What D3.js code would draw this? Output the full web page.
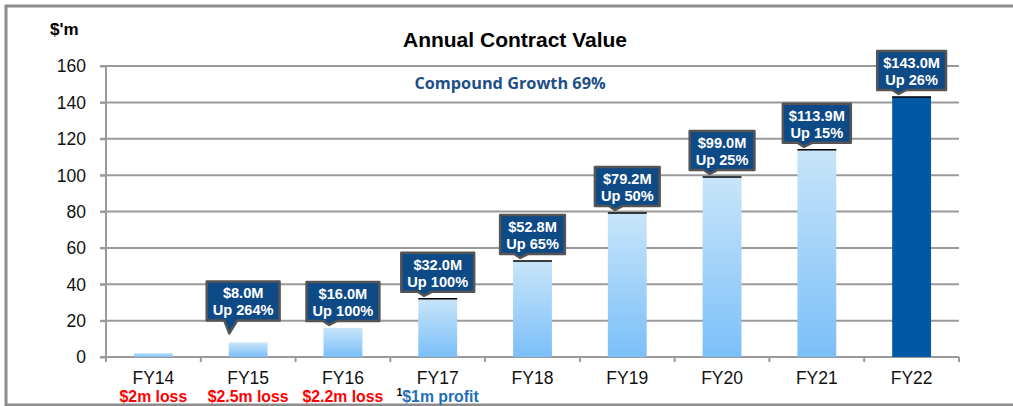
<!DOCTYPE html>
<html><head><meta charset="utf-8">
<script src="https://cdn.jsdelivr.net/npm/d3@7"></script>
<style>body{margin:0;background:#fff}svg{display:block}</style>
</head><body>
<svg id="c" width="1013" height="406"></svg>
<script>
const categories = ["FY14","FY15","FY16","FY17","FY18","FY19","FY20","FY21","FY22"];
const values = [2.2, 8.0, 16.0, 32.0, 52.8, 79.2, 99.0, 113.9, 143.0];
const calloutValue = [null,"$8.0M","$16.0M","$32.0M","$52.8M","$79.2M","$99.0M","$113.9M","$143.0M"];
const calloutGrowth = [null,"Up 264%","Up 100%","Up 100%","Up 65%","Up 50%","Up 25%","Up 15%","Up 26%"];
const profitNotes = ["$2m loss","$2.5m loss","$2.2m loss","$1m profit","","","","",""];
const profitKind = ["loss","loss","loss","profit","","","","",""];
const yTicks = [0,20,40,60,80,100,120,140,160];

const FONT = "Liberation Sans, Arial, sans-serif";
const svg = d3.select("#c");
const M = {left:106, right:959, top:66, bottom:357};
const x = d3.scaleBand().domain(categories).range([M.left, M.right]).paddingInner(0.59).paddingOuter(0.295);
const xb = d3.scaleBand().domain(categories).range([M.left, M.right]);
const y = d3.scaleLinear().domain([0,160]).range([M.bottom, M.top]);

// outer frame
svg.append("rect").attr("x",6).attr("y",6).attr("width",1030).attr("height",399)
  .attr("fill","none").attr("stroke","#8c8c8c").attr("stroke-width",3);

const defs = svg.append("defs");
const g1 = defs.append("linearGradient").attr("id","gb").attr("x1",0).attr("y1",0).attr("x2",0).attr("y2",1);
g1.append("stop").attr("offset","0%").attr("stop-color","#c8e5f9");
g1.append("stop").attr("offset","100%").attr("stop-color","#7bbff9");

// gridlines
const grid = svg.append("g");
yTicks.forEach(t=>{
  grid.append("line").attr("x1",M.left-6).attr("x2",M.right).attr("y1",y(t)).attr("y2",y(t))
    .attr("stroke","#9a9a9a").attr("stroke-width",2);
});
// y axis
const ya = svg.append("g").attr("transform",`translate(${M.left},0)`)
  .call(d3.axisLeft(y).tickValues(yTicks).tickSize(6).tickPadding(10));
ya.select(".domain").attr("stroke","#9a9a9a").attr("stroke-width",2).attr("d",`M0,${M.top}V${M.bottom+1}`);
ya.selectAll(".tick line").attr("stroke","#9a9a9a").attr("stroke-width",2);
ya.selectAll(".tick text").attr("font-family",FONT).attr("font-size",17.5).attr("fill","#111").attr("dy","0.34em").attr("x",-20);

// x axis
const xa = svg.append("g").attr("transform",`translate(0,${M.bottom})`)
  .call(d3.axisBottom(xb).tickSize(0).tickPadding(15));
xa.select(".domain").remove();
xa.selectAll(".tick text").attr("font-family",FONT).attr("font-size",17.5).attr("fill","#111");
// band boundary ticks
const bounds = categories.map(c=>xb(c)).concat([M.right]);
bounds.forEach(b=>{
  svg.append("line").attr("x1",b).attr("x2",b).attr("y1",M.bottom).attr("y2",M.bottom+5)
    .attr("stroke","#9a9a9a").attr("stroke-width",2);
});

// bars
const bars = svg.append("g");
categories.forEach((c,i)=>{
  const last = i===categories.length-1;
  bars.append("rect").attr("x",x(c)).attr("y",y(values[i])).attr("width",x.bandwidth())
    .attr("height",y(0)-y(values[i])).attr("fill", last ? "#0059a4" : "url(#gb)");
  if(i>=3){
    bars.append("line").attr("x1",x(c)).attr("x2",x(c)+x.bandwidth())
      .attr("y1",y(values[i])).attr("y2",y(values[i])).attr("stroke","#000").attr("stroke-width",1.5);
  }
});

// title
svg.append("text").attr("x",515).attr("y",47).attr("text-anchor","middle")
  .attr("font-family",FONT).attr("font-weight","bold").attr("font-size",21).attr("fill","#000")
  .text("Annual Contract Value");
svg.append("text").attr("x",50).attr("y",35)
  .attr("font-family",FONT).attr("font-weight","bold").attr("font-size",17).attr("fill","#000")
  .text("$'m");
svg.append("text").attr("x",510).attr("y",89).attr("text-anchor","middle")
  .attr("font-family","Open Sans, sans-serif").attr("font-weight","bold").attr("font-size",16.3).attr("fill","#1d4f86")
  .text("Compound Growth 69%");

// profit notes
const notes = svg.append("g");
categories.forEach((c,i)=>{
  if(!profitNotes[i]) return;
  const cx = xb(c)+xb.bandwidth()/2;
  const t = notes.append("text").attr("x",cx).attr("y",402).attr("text-anchor","middle")
    .attr("font-family",FONT).attr("font-weight","bold").attr("font-size",15.8);
  if(profitKind[i]==="profit"){
    t.append("tspan").attr("fill","#000").attr("font-size",10).attr("dy",-6).text("1");
    t.append("tspan").attr("fill","#1f6fb5").attr("dy",6).text(profitNotes[i]);
  } else {
    t.attr("fill","#f00").text(profitNotes[i]);
  }
});

// callouts
const co = svg.append("g");
categories.forEach((c,i)=>{
  if(!calloutValue[i]) return;
  const cx = xb(c)+xb.bandwidth()/2 - (i===1?5:0);
  const top = y(values[i]);
  const lift = i===1 ? 22 : 7;
  const h = 39;
  const bottom = top - lift;
  const y0 = bottom - h;
  const grp = co.append("g");
  const path = grp.append("path");
  const t = grp.append("text").attr("text-anchor","middle").attr("fill","#fff")
    .attr("font-family",FONT).attr("font-weight","bold").attr("font-size",14.6);
  t.append("tspan").attr("x",cx).attr("y",y0+17).text(calloutValue[i]);
  t.append("tspan").attr("x",cx).attr("y",y0+34).text(calloutGrowth[i]);
  const w = t.node().getBBox().width + 12;
  const x0 = cx - w/2;
  const tipX = x0 + w*0.31;
  const tipY = i===1 ? top - 9 : top - 3;
  path.attr("d",`M${x0},${y0}H${x0+w}V${bottom}H${tipX+8}L${tipX},${tipY}L${tipX-(i===1?5:6)},${bottom}H${x0}Z`)
    .attr("fill","#0e4a86").attr("stroke","#555").attr("stroke-width",2.5).attr("stroke-linejoin","round");
});
</script>
</body></html>
